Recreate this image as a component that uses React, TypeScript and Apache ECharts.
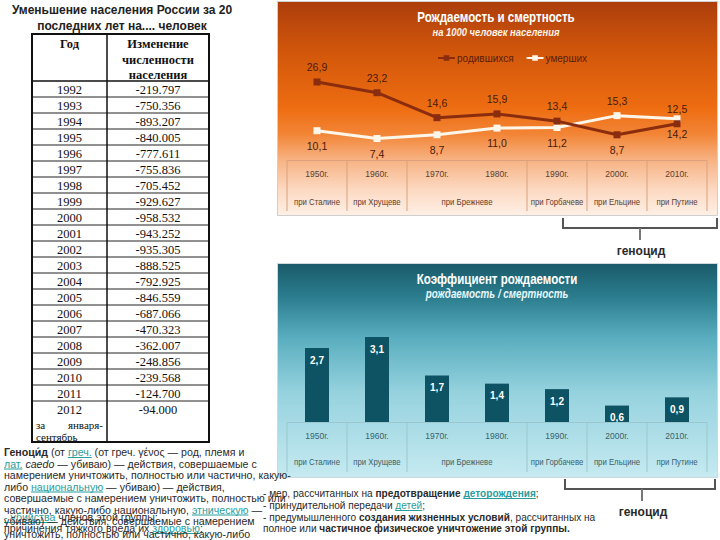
import React, { useEffect, useRef } from 'react';
import * as echarts from 'echarts';

// ---------- DATA ----------
const years = ['1950г.', '1960г.', '1970г.', '1980г.', '1990г.', '2000г.', '2010г.'];
const births = [26.9, 23.2, 14.6, 15.9, 13.4, 8.7, 12.5];
const deaths = [10.1, 7.4, 8.7, 11.0, 11.2, 15.3, 14.2];
const birthRatio = [2.7, 3.1, 1.7, 1.4, 1.2, 0.6, 0.9];
const rulers = ['при Сталине', 'при Хрущеве', 'при Брежневе', 'при Горбачеве', 'при Ельцине', 'при Путине'];
const rulerSpans = [1, 1, 2, 1, 1, 1];
const swappedLabelYears = ['2000г.'];

const tableYears = ['1992', '1993', '1994', '1995', '1996', '1997', '1998', '1999', '2000', '2001',
  '2002', '2003', '2004', '2005', '2006', '2007', '2008', '2009', '2010', '2011'];
const tableChanges = ['-219.797', '-750.356', '-893.207', '-840.005', '-777.611', '-755.836', '-705.452',
  '-929.627', '-958.532', '-943.252', '-935.305', '-888.525', '-792.925', '-846.559', '-687.066',
  '-470.323', '-362.007', '-248.856', '-239.568', '-124.700'];
const lastYear = '2012';
const lastChange = '-94.000';

type Seg = { t: string; b?: boolean; i?: boolean; link?: boolean };
const leftText: { y: number; segs: Seg[] }[] = [
  { y: 452, segs: [{ t: 'Геноци́д', b: true }, { t: ' (от ' }, { t: 'греч.', link: true }, { t: ' (от греч. γένος — род, племя и' }] },
  { y: 463.5, segs: [{ t: 'лат.', link: true }, { t: ' ' }, { t: 'caedo', i: true }, { t: ' — убиваю) — действия, совершаемые с' }] },
  { y: 475, segs: [{ t: 'намерением уничтожить, полностью или частично, какую-' }] },
  { y: 486.5, segs: [{ t: 'либо ' }, { t: 'национальную', link: true }, { t: ' — убиваю) — действия,' }] },
  { y: 498, segs: [{ t: 'совершаемые с намерением уничтожить, полностью или' }] },
  { y: 509.5, segs: [{ t: 'частично, какую-либо национальную, ' }, { t: 'этническую', link: true }, { t: ' —' }] },
  { y: 517, segs: [{ t: '- убийства', link: true }, { t: ' членов этой группы;' }] },
  { y: 521, segs: [{ t: 'убиваю) — действия, совершаемые с намерением' }] },
  { y: 528, segs: [{ t: 'причинения тяжкого вреда их ' }, { t: 'здоровью', link: true }, { t: ';' }] },
  { y: 534, segs: [{ t: 'уничтожить, полностью или частично, какую-либо' }] },
];
const rightText: { y: number; segs: Seg[] }[] = [
  { y: 493, segs: [{ t: '- мер, рассчитанных на ' }, { t: 'предотвращение', b: true }, { t: ' ' }, { t: 'деторождения', link: true, b: true }, { t: ';' }] },
  { y: 505, segs: [{ t: '- принудительной передачи ' }, { t: 'детей', link: true }, { t: ';' }] },
  { y: 517, segs: [{ t: '- предумышленного ' }, { t: 'создания жизненных условий', b: true }, { t: ', рассчитанных на' }] },
  { y: 528.5, segs: [{ t: 'полное или ' }, { t: 'частичное физическое уничтожение этой группы.', b: true }] },
];

// ---------- STYLE / LAYOUT ----------
const BODY = "'Liberation Sans', Arial, sans-serif";
const SERIF = "'Liberation Serif', 'Times New Roman', serif";
const NARROW_SX = 0.82;
const TEXT = '#2a2a2a';
const LINK = '#2a9c9c';
const GX = 287;
const GW = 420;
const topGrid = { top: 73, height: 87 };
const botGrid = { top: 312.4, height: 109.6 };

const fmt = (v: number) => v.toFixed(1).replace('.', ',');

export default function App() {
  const ref = useRef<HTMLDivElement>(null);
  useEffect(() => {
    if (!ref.current) return;
    const chart = echarts.init(ref.current, undefined, { renderer: 'svg' });
    const canvas = document.createElement('canvas');
    const ctx = canvas.getContext('2d')!;
    const measure = (t: string, size: number, b?: boolean, i?: boolean) => {
      ctx.font = `${i ? 'italic' : 'normal'} ${b ? 'bold' : 'normal'} ${size}px ${BODY}`;
      return ctx.measureText(t).width;
    };
    const els: any[] = [];
    const txt = (x: number, y: number, text: string, o: any = {}) =>
      els.push({
        type: 'text', x, y, z: 20, silent: true, scaleX: o.sx || 1,
        style: {
          text, fill: o.fill || TEXT, fontSize: o.size || 10, fontFamily: o.family || BODY,
          fontWeight: o.bold ? 'bold' : 'normal', fontStyle: o.italic ? 'italic' : 'normal',
          align: o.align || 'center', verticalAlign: 'middle',
        },
      });
    const line = (x1: number, y1: number, x2: number, y2: number, stroke: string, w = 1, z = 20) =>
      els.push({ type: 'line', z, silent: true, shape: { x1, y1, x2, y2 }, style: { stroke, lineWidth: w } });

    const renderLines = (x0: number, lines: { y: number; segs: Seg[] }[], size: number) => {
      lines.forEach(({ y, segs }) => {
        let x = x0;
        segs.forEach((s) => {
          const trimmed = s.t.trim();
          const lead = s.t.length - s.t.trimStart().length;
          const leadW = measure(s.t.slice(0, lead), size, s.b, s.i);
          const w = measure(trimmed, size, s.b, s.i);
          if (trimmed) {
            txt(x + leadW, y, trimmed, { size, bold: s.b, italic: s.i, fill: s.link ? LINK : TEXT, align: 'left' });
            if (s.link) line(x + leadW, y + 5.5, x + leadW + w, y + 5.5, LINK, 1);
          }
          x += measure(s.t, size, s.b, s.i);
        });
      });
    };

    // ---- panels ----
    els.push({
      type: 'rect', z: 0, silent: true, shape: { x: 277.5, y: 1.5, width: 440, height: 214 },
      style: {
        stroke: '#cfcfcf', lineWidth: 1,
        fill: {
          type: 'linear', x: 0, y: 0, x2: 0, y2: 1, colorStops: [
            { offset: 0, color: '#ac3e0c' }, { offset: 0.25, color: '#d4580b' },
            { offset: 0.5, color: '#ee6d12' }, { offset: 0.62, color: '#f28536' },
            { offset: 0.74, color: '#f7b283' }, { offset: 0.88, color: '#fcd9c2' },
            { offset: 1, color: '#fff0e6' },
          ],
        },
      },
    });
    els.push({
      type: 'rect', z: 0, silent: true, shape: { x: 277.5, y: 263.5, width: 440, height: 214 },
      style: {
        stroke: '#cfd8da', lineWidth: 1,
        fill: {
          type: 'linear', x: 0, y: 0, x2: 0, y2: 1, colorStops: [
            { offset: 0, color: '#1a5a6a' }, { offset: 0.15, color: '#2a7c8d' },
            { offset: 0.35, color: '#5aaebf' }, { offset: 0.6, color: '#95d2de' },
            { offset: 1, color: '#c6eaf1' },
          ],
        },
      },
    });

    // ---- panel titles (narrow look via scaleX) ----
    txt(496, 17, 'Рождаемость и смертность', { size: 15, bold: true, fill: '#ffffff', sx: 0.77 });
    txt(496, 32, 'на 1000 человек населения', { size: 11.5, bold: true, italic: true, fill: '#fff3e8', sx: NARROW_SX });
    txt(497, 279, 'Коэффициент рождаемости', { size: 15, bold: true, fill: '#ffffff', sx: 0.77 });
    txt(497, 294, 'рождаемость / смертность', { size: 12, bold: true, italic: true, fill: '#e8f8fb', sx: NARROW_SX });

    // ---- category boxes ----
    const cw = GW / years.length;
    const drawBox = (top: number, bottom: number, rulerY: number, color: string, textColor: string) => {
      line(GX, top, GX + GW, top, color, 1, 1);
      let idx = 0;
      line(GX, top, GX, bottom, color, 1, 1);
      rulerSpans.forEach((span, k) => {
        const x0 = GX + idx * cw;
        idx += span;
        const x1 = GX + idx * cw;
        line(x1, top, x1, bottom, color, 1, 1);
        txt((x0 + x1) / 2, rulerY, rulers[k], { size: 9.5, fill: textColor, sx: NARROW_SX });
      });
    };
    drawBox(160.5, 211, 201.5, '#d9a27c', '#5c4030');
    drawBox(422.5, 472, 462, '#9cc6cf', '#3d5e66');

    // ---- brackets ----
    const bracket = (x1: number, x2: number, y: number, stemX: number, label: string) => {
      line(x1, y, x2, y, '#555555', 2);
      line(x1, y - 10, x1, y + 1, '#555555', 2);
      line(x2, y - 10, x2, y + 1, '#555555', 2);
      line(stemX, y, stemX, y + 12, '#777777', 2);
      txt(stemX + 1, y + 23, label, { size: 12, bold: true, fill: '#2a2a2a' });
    };
    bracket(563, 717, 228, 640, 'геноцид');
    bracket(565, 715, 489, 642, 'геноцид');

    // ---- page title ----
    txt(122, 10, 'Уменьшение населения России за 20', { size: 12, bold: true, fill: '#222' });
    txt(122, 26, 'последних лет на.... человек', { size: 12, bold: true, fill: '#222' });

    // ---- table ----
    const T = { left: 32, mid: 107, right: 209, top: 34, head: 81, rowH: 16, bottom: 442 };
    const yc = (T.left + T.mid) / 2;
    const vc = (T.mid + T.right) / 2;
    txt(yc, 44, 'Год', { size: 12.5, bold: true, family: SERIF, fill: '#111' });
    txt(vc, 44, 'Изменение', { size: 12.5, bold: true, family: SERIF, fill: '#111' });
    txt(vc, 60, 'численности', { size: 12.5, bold: true, family: SERIF, fill: '#111' });
    txt(vc, 75, 'населения', { size: 12.5, bold: true, family: SERIF, fill: '#111' });
    line(T.left, T.head, T.right, T.head, '#111', 1.5);
    tableYears.forEach((yr, i) => {
      const top = T.head + i * T.rowH;
      txt(yc, top + 8.5, yr, { size: 12.5, family: SERIF, fill: '#111' });
      txt(vc, top + 8.5, tableChanges[i], { size: 12.5, family: SERIF, fill: '#111' });
      line(T.left, top + T.rowH, T.right, top + T.rowH, '#222', 1);
    });
    const lastTop = T.head + tableYears.length * T.rowH;
    txt(yc, lastTop + 9, lastYear, { size: 12.5, family: SERIF, fill: '#111' });
    txt(vc, lastTop + 9, lastChange, { size: 12.5, family: SERIF, fill: '#111' });
    txt(36, lastTop + 24, 'за', { size: 11, family: SERIF, fill: '#111', align: 'left' });
    txt(103, lastTop + 24, 'января-', { size: 11, family: SERIF, fill: '#111', align: 'right' });
    txt(36, lastTop + 36, 'сентябрь', { size: 11, family: SERIF, fill: '#111', align: 'left' });
    els.push({
      type: 'rect', z: 21, silent: true,
      shape: { x: T.left, y: T.top, width: T.right - T.left, height: T.bottom - T.top },
      style: { fill: 'none', stroke: '#111', lineWidth: 2 },
    });
    line(T.mid, T.top, T.mid, T.bottom, '#111', 1.5);

    // ---- body text ----
    renderLines(4, leftText, 10.6);
    renderLines(263, rightText, 10.1);

    const lineLabel = (pos: string) => ({
      show: true, position: pos, distance: 6, formatter: (p: any) => fmt(p.value),
      color: '#4a1a08', fontSize: 10.5, fontFamily: BODY,
    });

    chart.setOption({
      animation: false,
      grid: [
        { left: GX, width: GW, top: topGrid.top, height: topGrid.height },
        { left: GX, width: GW, top: botGrid.top, height: botGrid.height },
      ],
      legend: {
        data: ['родившихся', 'умерших'], left: 432, top: 48, itemWidth: 17, itemHeight: 7, itemGap: 12,
        textStyle: { color: '#5a1e08', fontSize: 10, fontFamily: BODY, padding: [0, 0, 0, -3] },
      },
      xAxis: [
        {
          gridIndex: 0, type: 'category', data: years,
          axisLine: { show: false }, axisTick: { show: false }, splitLine: { show: false },
          axisLabel: { margin: 9, fontSize: 8.5, color: '#5c4030', fontFamily: BODY },
        },
        {
          gridIndex: 1, type: 'category', data: years,
          axisLine: { show: false }, axisTick: { show: false }, splitLine: { show: false },
          axisLabel: { margin: 9, fontSize: 8.5, color: '#3d5e66', fontFamily: BODY },
        },
      ],
      yAxis: [
        { gridIndex: 0, type: 'value', min: 0, max: 30, show: false },
        { gridIndex: 1, type: 'value', min: 0, max: 4, show: false },
      ],
      series: [
        {
          name: 'родившихся', type: 'line', xAxisIndex: 0, yAxisIndex: 0, z: 5,
          symbol: 'rect', symbolSize: 7,
          data: births.map((v, i) => ({
            value: v, label: lineLabel(swappedLabelYears.includes(years[i]) ? 'bottom' : 'top'),
          })),
          lineStyle: { color: '#8a2c0e', width: 3 }, itemStyle: { color: '#8a2c0e' },
          label: lineLabel('top'),
        },
        {
          name: 'умерших', type: 'line', xAxisIndex: 0, yAxisIndex: 0, z: 4,
          symbol: 'rect', symbolSize: 7,
          data: deaths.map((v, i) => ({
            value: v, label: lineLabel(swappedLabelYears.includes(years[i]) ? 'top' : 'bottom'),
          })),
          lineStyle: { color: '#fff6ea', width: 3 }, itemStyle: { color: '#fff6ea' },
          label: lineLabel('bottom'),
        },
        {
          name: 'Коэффициент рождаемости', type: 'bar', xAxisIndex: 1, yAxisIndex: 1, z: 5,
          data: birthRatio, barWidth: 24, itemStyle: { color: '#0e5363' },
          label: {
            show: true, position: 'insideTop', distance: 7, formatter: (p: any) => fmt(p.value),
            color: '#ffffff', fontWeight: 'bold', fontSize: 10, fontFamily: BODY,
          },
        },
      ],
      graphic: { elements: els },
    });
    return () => chart.dispose();
  }, []);
  return (
    <div
      ref={ref}
      style={{ position: 'absolute', left: 0, top: 0, width: 720, height: 540, background: '#ffffff' }}
    />
  );
}
